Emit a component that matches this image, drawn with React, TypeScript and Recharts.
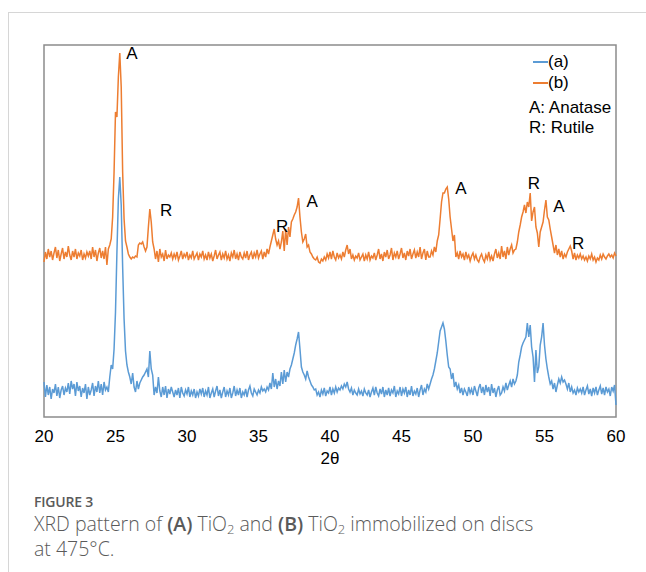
import React from 'react';
import { LineChart, Line, XAxis, YAxis, ReferenceArea, ReferenceDot } from 'recharts';

// 2θ grid: 20.0 to 60.0 in 0.1° steps
const twoTheta: number[] = Array.from({ length: 401 }, (_, i) => Math.round((20 + i * 0.1) * 10) / 10);

const xTicks = [20, 25, 30, 35, 40, 45, 50, 55, 60];

// (a) TiO2 — relative intensity
const seriesA: number[] = [
  35, 20, 32, 22, 30, 18, 28, 24, 33, 21,
  30, 19, 27, 31, 22, 29, 25, 34, 23, 36,
  28, 33, 21, 35, 26, 31, 20, 29, 24, 33,
  18, 30, 22, 27, 34, 21, 31, 25, 36, 24,
  33, 22, 35, 27, 30, 25, 40, 52, 48, 68,
  105, 165, 218, 240, 212, 150, 98, 66, 52, 45,
  40, 33, 44, 30, 25, 36, 28, 34, 37, 40,
  42, 45, 48, 40, 66, 48, 42, 22, 30, 24,
  40, 26, 20, 30, 22, 31, 19, 28, 23, 30,
  25, 20, 27, 22, 29, 19, 30, 24, 21, 27,
  23, 30, 20, 26, 22, 28, 19, 25, 21, 28,
  23, 29, 20, 26, 22, 30, 19, 24, 28, 20,
  26, 31, 21, 27, 19, 25, 30, 20, 26, 22,
  29, 19, 24, 31, 21, 27, 22, 29, 19, 25,
  22, 28, 20, 27, 31, 24, 21, 28, 25, 22,
  27, 24, 30, 26, 28, 25, 30, 27, 34, 28,
  44, 30, 38, 28, 36, 31, 45, 33, 47, 35,
  45, 40, 48, 52, 58, 64, 72, 78, 85, 68,
  50, 45, 42, 38, 46, 40, 36, 32, 30, 27,
  28, 22, 25, 20, 27, 23, 29, 21, 26, 24,
  30, 22, 28, 24, 30, 25, 29, 27, 31, 28,
  33, 30, 35, 28, 25, 29, 22, 27, 24, 22,
  28, 23, 26, 21, 28, 24, 22, 27, 20, 25,
  29, 22, 30, 24, 21, 28, 23, 30, 20, 27,
  22, 29, 21, 27, 24, 31, 20, 26, 23, 30,
  21, 28, 24, 30, 20, 27, 22, 31, 21, 26,
  23, 29, 20, 27, 32, 22, 28, 25, 33, 28,
  33, 38, 42, 48, 56, 64, 75, 86, 90, 94,
  88, 76, 62, 50, 48, 38, 44, 30, 35, 28,
  32, 24, 29, 22, 28, 25, 21, 30, 24, 28,
  22, 31, 26, 21, 29, 33, 24, 30, 22, 32,
  25, 30, 21, 33, 24, 29, 20, 27, 31, 22,
  24, 30, 26, 34, 27, 32, 36, 30, 38, 33,
  36, 42, 55, 62, 70, 74, 77, 80, 94, 80,
  92, 70, 60, 35, 67, 44, 50, 72, 80, 94,
  72, 58, 48, 40, 33, 36, 28, 34, 25, 32,
  38, 34, 40, 35, 37, 33, 28, 34, 25, 30,
  24, 27, 22, 29, 25, 28, 24, 30, 22, 27,
  31, 23, 28, 21, 29, 24, 30, 22, 27, 31,
  23, 29, 22, 30, 25, 28, 21, 30, 26, 32,
  12,
];

// (b) TiO2 immobilized on discs — relative intensity (offset)
const seriesB: number[] = [
  155, 165, 158, 168, 160, 166, 157, 164, 170, 159,
  167, 156, 163, 169, 158, 165, 160, 171, 162, 157,
  166, 160, 168, 158, 164, 161, 167, 157, 163, 159,
  165, 161, 166, 158, 170, 160, 167, 156, 164, 169,
  159, 166, 158, 170, 152, 168, 172, 178, 200, 245,
  305, 300, 340, 364, 330, 245, 198, 176, 170, 163,
  160, 158, 160, 159, 161, 160, 172, 174, 173, 175,
  170, 166, 170, 190, 208, 195, 175, 168, 158, 166,
  155, 168, 160, 163, 156, 167, 158, 162, 160, 164,
  158, 163, 159, 165, 157, 161, 166, 158, 163, 160,
  165, 157, 162, 159, 166, 158, 161, 164, 157, 163,
  160, 166, 158, 162, 157, 165, 159, 163, 156, 161,
  167, 158, 162, 165, 157, 163, 159, 166, 158, 162,
  156, 164, 160, 167, 158, 163, 157, 165, 160, 158,
  164, 159, 166, 157, 162, 165, 158, 164, 160, 167,
  159, 163, 166, 158, 165, 160, 168, 163, 170, 176,
  182, 188, 178, 172, 176, 168, 175, 186, 166, 188,
  172, 190, 180, 195, 198, 202, 205, 210, 219, 200,
  185, 175, 178, 183, 170, 172, 165, 163, 160, 158,
  157, 160, 155, 154, 158, 156, 160, 157, 163, 159,
  165, 158, 166, 160, 157, 164, 159, 162, 158, 165,
  160, 167, 172, 163, 168, 158, 162, 157, 161, 159,
  164, 157, 160, 163, 156, 162, 158, 165, 157, 161,
  159, 164, 157, 162, 168, 158, 163, 156, 165, 160,
  167, 158, 162, 169, 157, 164, 160, 166, 158, 163,
  169, 159, 164, 157, 166, 161, 168, 158, 163, 167,
  159, 165, 160, 170, 158, 164, 168, 157, 166, 160,
  160, 166, 162, 170, 165, 176, 182, 198, 215, 224,
  224, 228, 230, 218, 200, 188, 176, 182, 160, 164,
  158, 166, 160, 163, 157, 165, 159, 162, 156, 161,
  164, 158, 162, 157, 155, 160, 163, 158, 155, 162,
  158, 165, 157, 161, 156, 163, 168, 159, 164, 158,
  171, 160, 166, 158, 170, 162, 168, 172, 164, 167,
  168, 175, 185, 192, 200, 205, 212, 204, 215, 210,
  224, 196, 205, 210, 190, 184, 170, 185, 190, 195,
  207, 217, 200, 197, 188, 180, 172, 164, 172, 162,
  168, 160, 166, 158, 163, 160, 165, 168, 171, 166,
  158, 164, 157, 162, 159, 163, 158, 161, 157, 160,
  156, 161, 158, 163, 157, 160, 155, 159, 157, 162,
  158, 163, 160, 158, 161, 163, 160, 162, 159, 164,
  161,
];

// Peak annotations
const peakLabelX = [26.15, 28.55, 36.65, 38.75, 49.15, 54.25, 56.0, 57.35];
const peakLabelY = [364, 207, 191, 216, 229, 234, 211, 174];
const peakLabelText = ['A', 'R', 'R', 'A', 'A', 'R', 'A', 'R'];

const seriesNames = ['(a)', '(b)'];
const phaseNotes = ['A: Anatase', 'R: Rutile'];

const BLUE = '#5B9BD5';
const ORANGE = '#ED7D31';
const FONT = '"Liberation Sans", Arial, sans-serif';

const data = twoTheta.map((t, i) => ({ t, a: seriesA[i], b: seriesB[i] }));

const LegendBox = () => (
  <div style={{ position: 'absolute', left: 533, top: 51, fontFamily: FONT, fontSize: 17, color: '#000', lineHeight: '20px' }}>
    {seriesNames.map((n, i) => (
      <div key={n} style={{ display: 'flex', alignItems: 'center', height: 21 }}>
        <div style={{ width: 15, height: 2, background: i === 0 ? BLUE : ORANGE }} />
        <span>{n}</span>
      </div>
    ))}
    <div style={{ height: 5 }} />
    {phaseNotes.map((n) => (
      <div key={n} style={{ marginLeft: -4, height: 20, whiteSpace: 'nowrap' }}>{n}</div>
    ))}
  </div>
);

const PeakLabel = (props: any) => {
  const { viewBox, value } = props;
  const cx = viewBox.x + (viewBox.width || 0) / 2;
  const cy = viewBox.y + (viewBox.height || 0) / 2;
  return (
    <text x={cx} y={cy} textAnchor="middle" dominantBaseline="central" fontFamily={FONT} fontSize={17} fill="#000">
      {value}
    </text>
  );
};

export default function App() {
  return (
    <div style={{ position: 'fixed', left: 0, top: 0, width: 646, height: 572, background: '#fff', overflow: 'hidden' }}>
      <div style={{ position: 'absolute', left: 8, top: 12, right: 0, bottom: 0, borderTop: '1px solid #d6d6d6', borderLeft: '1px solid #d6d6d6' }} />
      <div style={{ position: 'absolute', left: 0, top: 0 }}>
        <LineChart width={646} height={470} data={data} margin={{ top: 45, right: 30, bottom: 3, left: 44 }}>
          <XAxis
            dataKey="t"
            type="number"
            domain={[20, 60]}
            ticks={xTicks}
            tickLine={false}
            axisLine={false}
            tickMargin={7}
            height={50}
            tick={{ fill: '#000', fontSize: 17, fontFamily: FONT }}
            label={{ value: '2θ', position: 'insideBottom', offset: 3, fill: '#000', fontSize: 17, fontFamily: FONT }}
          />
          <YAxis hide type="number" domain={[0, 372]} />
          <ReferenceArea x1={20} x2={60} y1={0} y2={372} fill="none" stroke="#8c8c8c" strokeWidth={1.5} ifOverflow="visible" />
          <Line type="linear" dataKey="a" stroke={BLUE} strokeWidth={1.5} dot={false} isAnimationActive={false} />
          <Line type="linear" dataKey="b" stroke={ORANGE} strokeWidth={1.5} dot={false} isAnimationActive={false} />
          {peakLabelX.map((x, i) => (
            <ReferenceDot key={i} x={x} y={peakLabelY[i]} r={0} fill="none" stroke="none" ifOverflow="visible"
              label={<PeakLabel value={peakLabelText[i]} />} />
          ))}
        </LineChart>
      </div>
      <LegendBox />
      <div style={{ position: 'absolute', left: 34, top: 492, fontFamily: '"Open Sans", sans-serif', color: '#5a5a5a' }}>
        <div style={{ fontSize: 14, fontWeight: 600, letterSpacing: -0.2, lineHeight: '20px' }}>FIGURE 3</div>
        <div style={{ fontSize: 19.5, fontWeight: 300, lineHeight: '25px', marginTop: -1, whiteSpace: 'nowrap' }}>
          XRD pattern of <b style={{ fontWeight: 600 }}>(A)</b> TiO<sub style={{ fontSize: 13, verticalAlign: -3, lineHeight: 0 }}>2</sub> and <b style={{ fontWeight: 600 }}>(B)</b> TiO<sub style={{ fontSize: 13, verticalAlign: -3, lineHeight: 0 }}>2</sub> immobilized on discs
          <br />at 475°C.
        </div>
      </div>
    </div>
  );
}
